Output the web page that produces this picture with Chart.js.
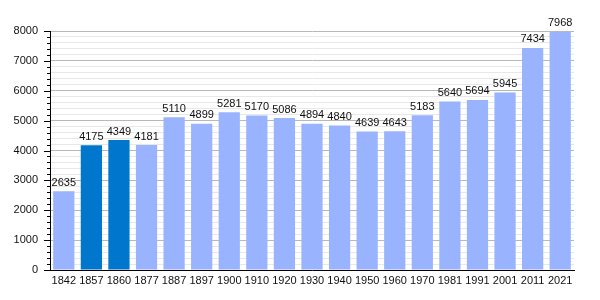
<!DOCTYPE html>
<html>
<head>
<meta charset="utf-8">
<script src="https://cdn.jsdelivr.net/npm/chart.js@4"></script>
<style>
  html, body { margin: 0; padding: 0; background: #fff; }
  #wrap { width: 600px; height: 300px; }
</style>
</head>
<body>
<div id="wrap"><canvas id="chart"></canvas></div>
<script>
// census years and population
const years = ["1842", "1857", "1860", "1877", "1887", "1897", "1900", "1910", "1920", "1930",
  "1940", "1950", "1960", "1970", "1981", "1991", "2001", "2011", "2021"];
const population = [2635, 4175, 4349, 4181, 5110, 4899, 5281, 5170, 5086, 4894,
  4840, 4639, 4643, 5183, 5640, 5694, 5945, 7434, 7968];
// years drawn in the darker colour
const highlighted = ["1857", "1860"];

const lightBlue = "#99b3ff";
const darkBlue = "#0077cc";

// value text above each bar
const valueLabels = {
  id: "valueLabels",
  afterDatasetsDraw(chart) {
    const ctx = chart.ctx;
    const meta = chart.getDatasetMeta(0);
    ctx.save();
    ctx.font = "11px 'Liberation Sans', Arial, sans-serif";
    ctx.fillStyle = "#111";
    ctx.textAlign = "center";
    ctx.textBaseline = "bottom";
    meta.data.forEach((bar, i) => {
      ctx.fillText(String(population[i]), bar.x, bar.y - 3);
    });
    ctx.restore();
  }
};

// major and minor ticks on the left axis
const axisTicks = {
  id: "axisTicks",
  afterDraw(chart) {
    const y = chart.scales.y;
    const ctx = chart.ctx;
    const left = chart.chartArea.left;
    ctx.save();
    ctx.strokeStyle = "#000";
    ctx.lineWidth = 1;
    y.ticks.forEach(t => {
      const py = Math.round(y.getPixelForValue(t.value)) + 0.5;
      const len = t.value % 1000 === 0 ? 6 : 3;
      ctx.beginPath();
      ctx.moveTo(left - len, py);
      ctx.lineTo(left, py);
      ctx.stroke();
    });
    ctx.restore();
  }
};

new Chart(document.getElementById("chart"), {
  type: "bar",
  data: {
    labels: years,
    datasets: [{
      data: population,
      backgroundColor: years.map(y => highlighted.includes(y) ? darkBlue : lightBlue),
      borderWidth: 0,
      barPercentage: 0.77,
      categoryPercentage: 1
    }]
  },
  options: {
    responsive: true,
    maintainAspectRatio: false,
    animation: false,
    layout: { padding: { top: 31, right: 26, left: 0, bottom: 0 } },
    plugins: {
      legend: { display: false },
      tooltip: { enabled: false }
    },
    scales: {
      x: {
        afterFit(scale) { scale.height = 30; },
        grid: { display: false, drawTicks: false },
        border: { color: "#000", width: 1 },
        ticks: {
          padding: 4,
          maxRotation: 0,
          autoSkip: false,
          color: "#111",
          font: { family: "'Liberation Sans', Arial, sans-serif", size: 11 }
        }
      },
      y: {
        min: 0,
        max: 8000,
        afterFit(scale) { scale.width = 50; },
        grid: {
          drawTicks: false,
          color: ctx => ctx.tick && ctx.tick.value % 1000 === 0 ? "#b8b8b8" : "#e8e8e8"
        },
        border: { color: "#000", width: 1 },
        ticks: {
          stepSize: 200,
          padding: 12,
          autoSkip: false,
          color: "#111",
          font: { family: "'Liberation Sans', Arial, sans-serif", size: 11 },
          callback: v => v % 1000 === 0 ? String(v) : ""
        }
      }
    }
  },
  plugins: [valueLabels, axisTicks]
});
</script>
</body>
</html>
